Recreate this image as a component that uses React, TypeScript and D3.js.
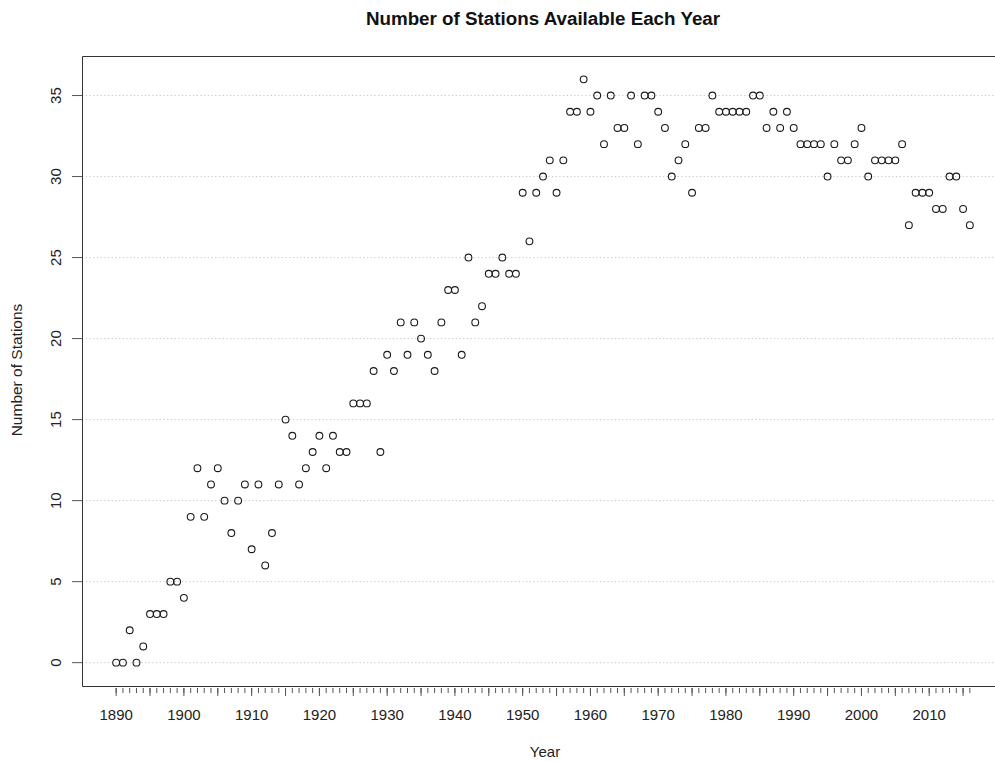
import React from "react";
import * as d3 from "d3";

const years: number[] = d3.range(1890, 2017);
const stations: number[] = [
  0, 0, 2, 0, 1, 3, 3, 3, 5, 5, // 1890-1899
  4, 9, 12, 9, 11, 12, 10, 8, 10, 11, // 1900-1909
  7, 11, 6, 8, 11, 15, 14, 11, 12, 13, // 1910-1919
  14, 12, 14, 13, 13, 16, 16, 16, 18, 13, // 1920-1929
  19, 18, 21, 19, 21, 20, 19, 18, 21, 23, // 1930-1939
  23, 19, 25, 21, 22, 24, 24, 25, 24, 24, // 1940-1949
  29, 26, 29, 30, 31, 29, 31, 34, 34, 36, // 1950-1959
  34, 35, 32, 35, 33, 33, 35, 32, 35, 35, // 1960-1969
  34, 33, 30, 31, 32, 29, 33, 33, 35, 34, // 1970-1979
  34, 34, 34, 34, 35, 35, 33, 34, 33, 34, // 1980-1989
  33, 32, 32, 32, 32, 30, 32, 31, 31, 32, // 1990-1999
  33, 30, 31, 31, 31, 31, 32, 27, 29, 29, // 2000-2009
  29, 28, 28, 30, 30, 28, 27, // 2010-2016
];
const yTicks: number[] = [0, 5, 10, 15, 20, 25, 30, 35];
const xLabelTicks: number[] = [1890, 1900, 1910, 1920, 1930, 1940, 1950, 1960, 1970, 1980, 1990, 2000, 2010];
const xMajorTicks: number[] = d3.range(1890, 2017, 5);
const xMinorTicks: number[] = d3.range(1890, 2017, 1);

const title = "Number of Stations Available Each Year";
const xTitle = "Year";
const yTitle = "Number of Stations";

export default function App() {
  const W = 995;
  const H = 761;
  const left = 82;
  const right = 1004;
  const top = 56;
  const bottom = 686;
  const x = d3.scaleLinear().domain([1884.96, 2021.04]).range([left, right]);
  const y = d3.scaleLinear().domain([-1.44, 37.44]).range([bottom, top]);
  const font = "'Liberation Sans', Arial, sans-serif";
  const txt = "#222";

  return (
    <svg
      width={W}
      height={H}
      style={{ position: "absolute", left: 0, top: 0, background: "#fff" }}
      fontFamily={font}
    >
      <rect x={0} y={0} width={W} height={H} fill="#fff" />
      {/* grid */}
      {yTicks.map((t) => (
        <line
          key={"g" + t}
          x1={left}
          x2={W}
          y1={y(t)}
          y2={y(t)}
          stroke="#c8c8c8"
          strokeWidth={1}
          strokeDasharray="1.3,2.4"
        />
      ))}
      {/* box: left, top, bottom */}
      <path
        d={`M${W},${top + 0.5}H${left + 0.5}V${bottom + 0.5}H${W}`}
        fill="none"
        stroke="#333"
        strokeWidth={1}
      />
      {/* y axis */}
      {yTicks.map((t) => (
        <g key={"y" + t}>
          <line x1={left - 10} x2={left} y1={y(t)} y2={y(t)} stroke="#555" strokeWidth={1} />
          <text
            transform={`translate(${61},${y(t)}) rotate(-90)`}
            textAnchor="middle"
            fontSize={15}
            fill={txt}
          >
            {t}
          </text>
        </g>
      ))}
      {/* x axis ticks */}
      {xMinorTicks.map((t) => (
        <line
          key={"m" + t}
          x1={x(t)}
          x2={x(t)}
          y1={bottom + 2}
          y2={bottom + 7}
          stroke="#555"
          strokeWidth={1}
        />
      ))}
      {xMajorTicks.map((t) => (
        <line
          key={"M" + t}
          x1={x(t)}
          x2={x(t)}
          y1={bottom + 2}
          y2={bottom + 10}
          stroke="#555"
          strokeWidth={1}
        />
      ))}
      {xLabelTicks.map((t) => (
        <text key={"l" + t} x={x(t)} y={720} textAnchor="middle" fontSize={15} fill={txt}>
          {t}
        </text>
      ))}
      {/* points */}
      {stations.map((v, i) => (
        <circle
          key={"p" + i}
          cx={x(years[i])}
          cy={y(v)}
          r={3.4}
          fill="none"
          stroke="#1a1a1a"
          strokeWidth={1.1}
        />
      ))}
      {/* titles */}
      <text x={(left + right) / 2} y={25} textAnchor="middle" fontSize={18.8} fontWeight="bold" fill="#111">
        {title}
      </text>
      <text x={545} y={757} textAnchor="middle" fontSize={15} fill={txt}>
        {xTitle}
      </text>
      <text
        transform={`translate(${22},${370}) rotate(-90)`}
        textAnchor="middle"
        fontSize={15.5}
        fill={txt}
      >
        {yTitle}
      </text>
    </svg>
  );
}
